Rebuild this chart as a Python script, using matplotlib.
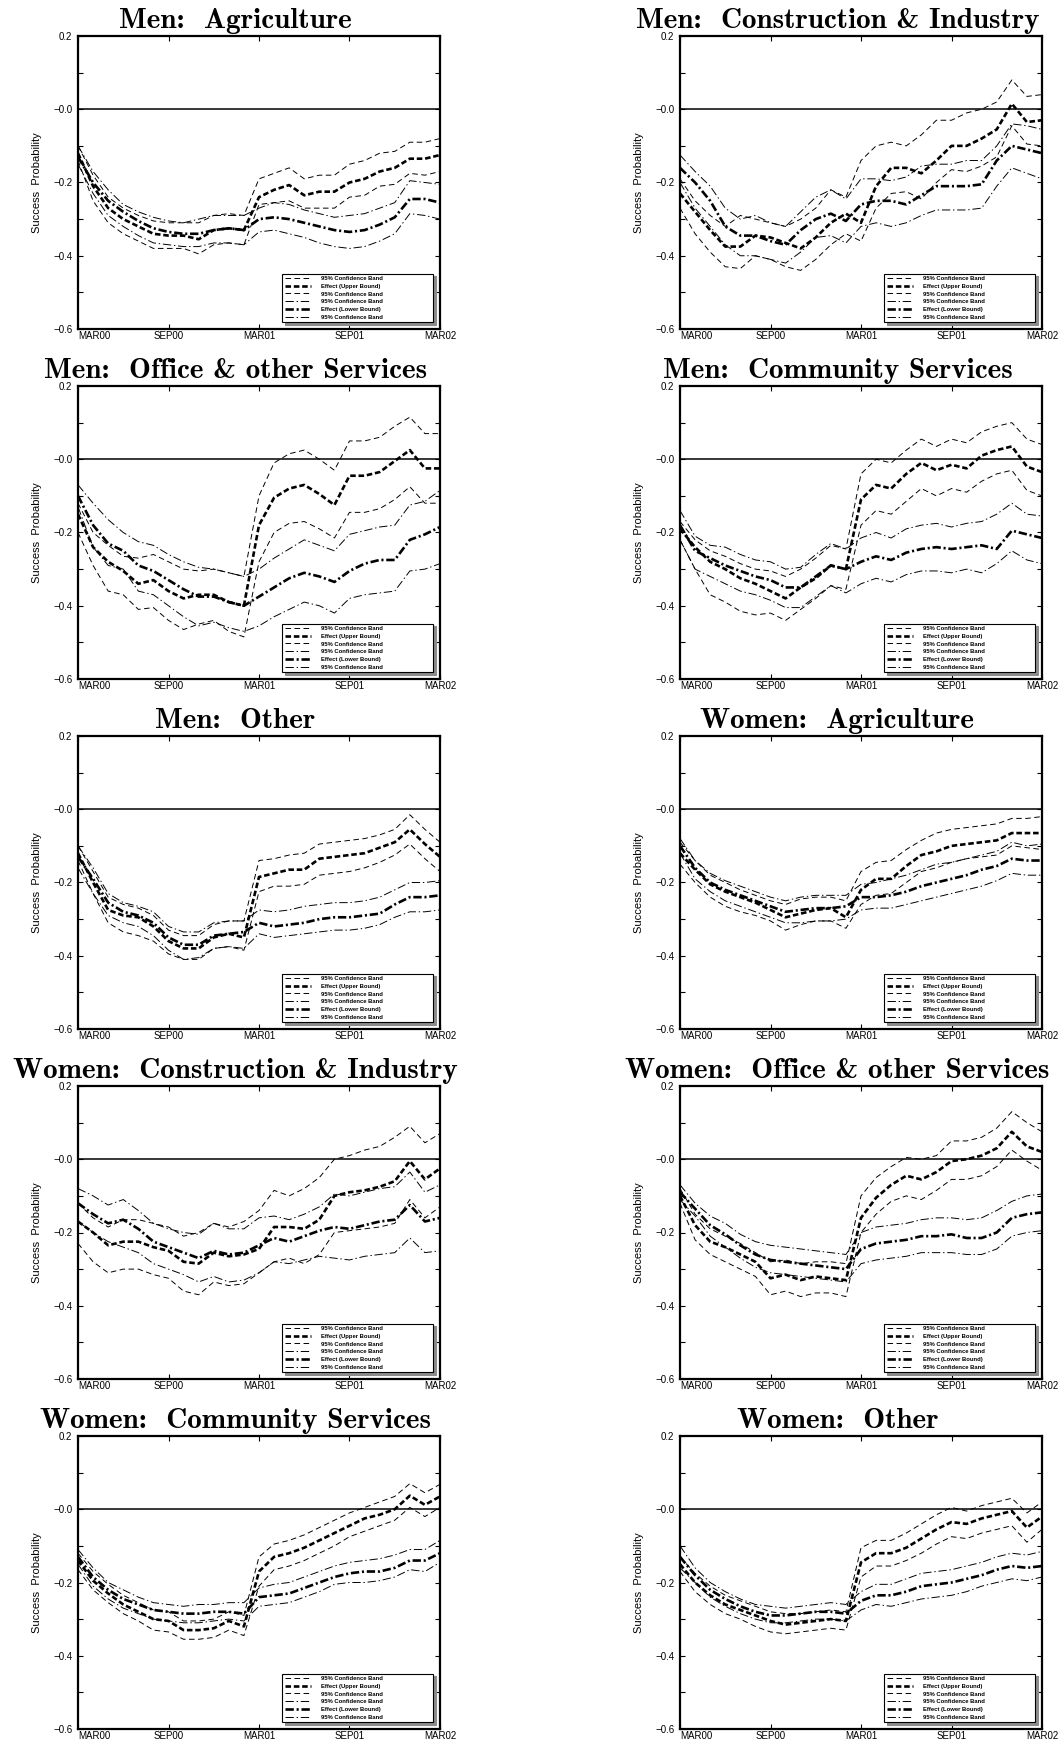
import numpy as np
import matplotlib
matplotlib.use("Agg")
import matplotlib.pyplot as plt

# ----------------------------------------------------------------------
# DATA (monthly, MAR00 .. MAR02 -> 25 points)
# uu/ue/ul: 95% band, effect (upper bound), 95% band
# lu/le/ll: 95% band, effect (lower bound), 95% band
# ----------------------------------------------------------------------
tick_labels = ["MAR00", "SEP00", "MAR01", "SEP01", "MAR02"]
y_labels = ["\u22120.6", "", "\u22120.4", "", "\u22120.2", "", "\u22120.0", "", "0.2"]

# Men: Agriculture
m_agr_uu = [-0.10, -0.18, -0.24, -0.27, -0.29, -0.305, -0.31, -0.31, -0.31, -0.29, -0.285, -0.29, -0.19, -0.175, -0.16, -0.19, -0.18, -0.18, -0.15, -0.14, -0.12, -0.115, -0.09, -0.09, -0.08]
m_agr_ue = [-0.12, -0.21, -0.27, -0.30, -0.32, -0.34, -0.345, -0.345, -0.355, -0.33, -0.325, -0.33, -0.24, -0.22, -0.207, -0.235, -0.225, -0.225, -0.20, -0.19, -0.17, -0.16, -0.135, -0.135, -0.125]
m_agr_ul = [-0.14, -0.25, -0.31, -0.34, -0.36, -0.38, -0.38, -0.38, -0.395, -0.37, -0.365, -0.37, -0.26, -0.255, -0.25, -0.27, -0.27, -0.27, -0.24, -0.235, -0.21, -0.205, -0.175, -0.18, -0.17]
m_agr_lu = [-0.10, -0.17, -0.22, -0.26, -0.28, -0.295, -0.305, -0.31, -0.30, -0.29, -0.29, -0.29, -0.27, -0.255, -0.26, -0.275, -0.285, -0.295, -0.29, -0.285, -0.27, -0.255, -0.195, -0.20, -0.205]
m_agr_le = [-0.13, -0.20, -0.25, -0.28, -0.305, -0.325, -0.335, -0.34, -0.34, -0.33, -0.325, -0.33, -0.30, -0.295, -0.30, -0.31, -0.32, -0.33, -0.335, -0.33, -0.315, -0.295, -0.245, -0.245, -0.255]
m_agr_ll = [-0.15, -0.23, -0.29, -0.32, -0.345, -0.365, -0.37, -0.375, -0.375, -0.365, -0.365, -0.37, -0.335, -0.33, -0.34, -0.35, -0.365, -0.375, -0.38, -0.375, -0.36, -0.34, -0.285, -0.29, -0.30]

# Men: Construction & Industry
m_con_uu = [-0.19, -0.25, -0.29, -0.32, -0.29, -0.30, -0.31, -0.32, -0.30, -0.27, -0.22, -0.24, -0.14, -0.10, -0.09, -0.10, -0.07, -0.03, -0.03, -0.01, 0.0, 0.02, 0.08, 0.035, 0.04]
m_con_ue = [-0.23, -0.28, -0.33, -0.375, -0.375, -0.345, -0.35, -0.365, -0.38, -0.35, -0.31, -0.285, -0.31, -0.21, -0.16, -0.16, -0.175, -0.14, -0.10, -0.10, -0.08, -0.055, 0.015, -0.035, -0.03]
m_con_ul = [-0.27, -0.34, -0.39, -0.43, -0.435, -0.40, -0.41, -0.43, -0.44, -0.41, -0.37, -0.34, -0.36, -0.27, -0.23, -0.225, -0.245, -0.20, -0.165, -0.17, -0.155, -0.13, -0.045, -0.095, -0.10]
m_con_lu = [-0.125, -0.17, -0.21, -0.27, -0.30, -0.29, -0.31, -0.32, -0.28, -0.24, -0.22, -0.245, -0.19, -0.19, -0.195, -0.185, -0.155, -0.15, -0.15, -0.14, -0.14, -0.10, -0.04, -0.045, -0.055]
m_con_le = [-0.16, -0.20, -0.25, -0.32, -0.345, -0.345, -0.36, -0.37, -0.33, -0.30, -0.285, -0.305, -0.26, -0.25, -0.25, -0.26, -0.235, -0.21, -0.21, -0.21, -0.205, -0.14, -0.10, -0.11, -0.12]
m_con_ll = [-0.20, -0.27, -0.32, -0.37, -0.40, -0.40, -0.41, -0.42, -0.39, -0.35, -0.345, -0.365, -0.32, -0.31, -0.32, -0.31, -0.29, -0.275, -0.275, -0.275, -0.27, -0.21, -0.16, -0.175, -0.19]

# Men: Office & other Services
m_off_uu = [-0.12, -0.20, -0.235, -0.265, -0.27, -0.26, -0.28, -0.30, -0.305, -0.30, -0.31, -0.32, -0.10, -0.01, 0.015, 0.025, 0.0, -0.03, 0.05, 0.05, 0.06, 0.09, 0.115, 0.07, 0.07]
m_off_ue = [-0.15, -0.24, -0.28, -0.305, -0.34, -0.33, -0.36, -0.38, -0.37, -0.37, -0.39, -0.40, -0.18, -0.105, -0.08, -0.07, -0.095, -0.125, -0.045, -0.045, -0.035, -0.005, 0.025, -0.025, -0.025]
m_off_ul = [-0.20, -0.29, -0.36, -0.37, -0.41, -0.405, -0.44, -0.465, -0.45, -0.44, -0.47, -0.485, -0.28, -0.20, -0.175, -0.17, -0.19, -0.215, -0.145, -0.145, -0.135, -0.11, -0.075, -0.12, -0.12]
m_off_lu = [-0.07, -0.12, -0.165, -0.20, -0.225, -0.235, -0.26, -0.28, -0.295, -0.30, -0.31, -0.32, -0.30, -0.27, -0.245, -0.22, -0.235, -0.25, -0.205, -0.195, -0.185, -0.18, -0.125, -0.115, -0.085]
m_off_le = [-0.10, -0.18, -0.23, -0.25, -0.29, -0.305, -0.33, -0.355, -0.375, -0.375, -0.39, -0.40, -0.375, -0.35, -0.325, -0.31, -0.32, -0.335, -0.305, -0.285, -0.275, -0.275, -0.22, -0.205, -0.185]
m_off_ll = [-0.13, -0.24, -0.29, -0.30, -0.36, -0.37, -0.40, -0.43, -0.455, -0.445, -0.46, -0.47, -0.455, -0.43, -0.41, -0.39, -0.40, -0.42, -0.38, -0.37, -0.365, -0.36, -0.305, -0.30, -0.285]

# Men: Community Services
m_com_uu = [-0.17, -0.22, -0.25, -0.265, -0.285, -0.30, -0.305, -0.32, -0.30, -0.27, -0.235, -0.245, -0.04, 0.0, -0.01, 0.025, 0.055, 0.035, 0.055, 0.045, 0.075, 0.09, 0.10, 0.055, 0.04]
m_com_ue = [-0.19, -0.24, -0.28, -0.30, -0.325, -0.34, -0.36, -0.38, -0.35, -0.325, -0.29, -0.30, -0.11, -0.07, -0.08, -0.04, -0.01, -0.03, -0.015, -0.025, 0.01, 0.025, 0.035, -0.02, -0.035]
m_com_ul = [-0.22, -0.30, -0.37, -0.39, -0.415, -0.425, -0.42, -0.44, -0.41, -0.38, -0.345, -0.355, -0.18, -0.14, -0.15, -0.115, -0.08, -0.10, -0.08, -0.09, -0.06, -0.04, -0.03, -0.085, -0.10]
m_com_lu = [-0.14, -0.21, -0.235, -0.24, -0.26, -0.275, -0.28, -0.30, -0.295, -0.26, -0.23, -0.245, -0.215, -0.20, -0.215, -0.19, -0.18, -0.175, -0.185, -0.175, -0.17, -0.15, -0.12, -0.15, -0.155]
m_com_le = [-0.18, -0.25, -0.27, -0.29, -0.305, -0.32, -0.33, -0.35, -0.35, -0.32, -0.29, -0.30, -0.28, -0.265, -0.275, -0.255, -0.245, -0.24, -0.245, -0.24, -0.235, -0.245, -0.195, -0.205, -0.215]
m_com_ll = [-0.22, -0.30, -0.32, -0.34, -0.36, -0.37, -0.385, -0.405, -0.405, -0.375, -0.345, -0.365, -0.34, -0.325, -0.335, -0.315, -0.305, -0.305, -0.31, -0.30, -0.31, -0.285, -0.25, -0.275, -0.285]

# Men: Other
m_oth_uu = [-0.10, -0.17, -0.24, -0.26, -0.27, -0.29, -0.33, -0.345, -0.345, -0.315, -0.305, -0.305, -0.14, -0.135, -0.125, -0.12, -0.095, -0.09, -0.085, -0.08, -0.07, -0.055, -0.015, -0.055, -0.09]
m_oth_ue = [-0.12, -0.20, -0.275, -0.29, -0.295, -0.32, -0.36, -0.38, -0.38, -0.35, -0.34, -0.35, -0.185, -0.175, -0.165, -0.165, -0.135, -0.13, -0.125, -0.12, -0.105, -0.09, -0.055, -0.095, -0.13]
m_oth_ul = [-0.14, -0.23, -0.31, -0.335, -0.345, -0.36, -0.395, -0.41, -0.41, -0.38, -0.375, -0.385, -0.225, -0.21, -0.21, -0.205, -0.18, -0.175, -0.17, -0.16, -0.145, -0.125, -0.095, -0.135, -0.17]
m_oth_lu = [-0.10, -0.16, -0.23, -0.255, -0.265, -0.28, -0.32, -0.335, -0.335, -0.31, -0.305, -0.305, -0.275, -0.28, -0.275, -0.265, -0.26, -0.255, -0.255, -0.25, -0.24, -0.22, -0.20, -0.20, -0.195]
m_oth_le = [-0.13, -0.19, -0.255, -0.28, -0.29, -0.31, -0.35, -0.37, -0.37, -0.345, -0.34, -0.335, -0.31, -0.32, -0.315, -0.31, -0.30, -0.295, -0.295, -0.29, -0.285, -0.26, -0.24, -0.24, -0.235]
m_oth_ll = [-0.16, -0.23, -0.29, -0.31, -0.32, -0.345, -0.385, -0.41, -0.405, -0.38, -0.375, -0.38, -0.34, -0.35, -0.345, -0.34, -0.335, -0.33, -0.33, -0.325, -0.315, -0.295, -0.28, -0.28, -0.275]

# Women: Agriculture
w_agr_uu = [-0.09, -0.14, -0.18, -0.20, -0.22, -0.235, -0.25, -0.26, -0.245, -0.24, -0.24, -0.25, -0.17, -0.145, -0.14, -0.11, -0.085, -0.065, -0.055, -0.05, -0.045, -0.04, -0.025, -0.025, -0.02]
w_agr_ue = [-0.12, -0.165, -0.205, -0.225, -0.24, -0.255, -0.275, -0.295, -0.285, -0.275, -0.27, -0.295, -0.22, -0.19, -0.19, -0.155, -0.125, -0.115, -0.10, -0.095, -0.09, -0.085, -0.065, -0.065, -0.065]
w_agr_ul = [-0.15, -0.20, -0.24, -0.265, -0.28, -0.29, -0.305, -0.33, -0.315, -0.305, -0.305, -0.325, -0.26, -0.235, -0.23, -0.20, -0.17, -0.16, -0.145, -0.135, -0.13, -0.125, -0.10, -0.105, -0.11]
w_agr_lu = [-0.08, -0.14, -0.175, -0.195, -0.21, -0.225, -0.24, -0.25, -0.24, -0.235, -0.235, -0.235, -0.205, -0.20, -0.19, -0.18, -0.165, -0.15, -0.145, -0.135, -0.125, -0.115, -0.09, -0.10, -0.095]
w_agr_le = [-0.10, -0.16, -0.20, -0.22, -0.235, -0.25, -0.265, -0.28, -0.275, -0.27, -0.27, -0.265, -0.24, -0.24, -0.235, -0.225, -0.21, -0.20, -0.19, -0.18, -0.165, -0.155, -0.135, -0.14, -0.14]
w_agr_ll = [-0.12, -0.19, -0.225, -0.25, -0.265, -0.28, -0.295, -0.31, -0.31, -0.305, -0.305, -0.30, -0.275, -0.27, -0.27, -0.26, -0.25, -0.24, -0.23, -0.22, -0.21, -0.195, -0.175, -0.18, -0.18]

# Women: Construction & Industry
w_con_uu = [-0.12, -0.16, -0.185, -0.165, -0.165, -0.175, -0.185, -0.21, -0.20, -0.175, -0.185, -0.17, -0.14, -0.085, -0.10, -0.08, -0.05, 0.0, 0.01, 0.025, 0.035, 0.06, 0.09, 0.045, 0.07]
w_con_ue = [-0.17, -0.20, -0.235, -0.225, -0.225, -0.24, -0.25, -0.28, -0.285, -0.255, -0.265, -0.26, -0.245, -0.185, -0.185, -0.19, -0.165, -0.10, -0.09, -0.085, -0.075, -0.06, -0.005, -0.055, -0.025]
w_con_ul = [-0.23, -0.28, -0.31, -0.30, -0.30, -0.315, -0.325, -0.36, -0.37, -0.335, -0.345, -0.34, -0.31, -0.28, -0.27, -0.285, -0.26, -0.20, -0.195, -0.19, -0.185, -0.175, -0.11, -0.16, -0.13]
w_con_lu = [-0.08, -0.10, -0.125, -0.11, -0.14, -0.175, -0.19, -0.20, -0.205, -0.175, -0.19, -0.19, -0.16, -0.155, -0.165, -0.15, -0.13, -0.095, -0.10, -0.09, -0.08, -0.075, -0.035, -0.09, -0.07]
w_con_le = [-0.12, -0.15, -0.175, -0.165, -0.19, -0.225, -0.24, -0.255, -0.27, -0.25, -0.26, -0.255, -0.235, -0.215, -0.225, -0.21, -0.195, -0.185, -0.19, -0.18, -0.17, -0.165, -0.125, -0.17, -0.16]
w_con_ll = [-0.17, -0.20, -0.225, -0.24, -0.255, -0.285, -0.30, -0.315, -0.335, -0.32, -0.335, -0.33, -0.31, -0.28, -0.285, -0.275, -0.265, -0.27, -0.275, -0.265, -0.26, -0.255, -0.215, -0.255, -0.25]

# Women: Office & other Services
w_off_uu = [-0.08, -0.15, -0.19, -0.21, -0.23, -0.255, -0.28, -0.275, -0.285, -0.28, -0.28, -0.285, -0.10, -0.05, -0.02, 0.005, 0.0, 0.01, 0.05, 0.05, 0.06, 0.085, 0.13, 0.10, 0.075]
w_off_ue = [-0.10, -0.18, -0.225, -0.24, -0.26, -0.28, -0.325, -0.315, -0.33, -0.32, -0.325, -0.33, -0.16, -0.105, -0.07, -0.045, -0.055, -0.035, -0.005, 0.0, 0.01, 0.03, 0.075, 0.035, 0.02]
w_off_ul = [-0.12, -0.22, -0.26, -0.28, -0.30, -0.32, -0.37, -0.36, -0.375, -0.365, -0.365, -0.375, -0.20, -0.15, -0.115, -0.10, -0.11, -0.085, -0.055, -0.055, -0.045, -0.02, 0.025, -0.005, -0.03]
w_off_lu = [-0.07, -0.12, -0.155, -0.175, -0.205, -0.225, -0.235, -0.24, -0.245, -0.25, -0.255, -0.26, -0.20, -0.185, -0.18, -0.175, -0.165, -0.16, -0.16, -0.165, -0.16, -0.14, -0.115, -0.10, -0.095]
w_off_le = [-0.09, -0.135, -0.18, -0.205, -0.235, -0.26, -0.275, -0.28, -0.285, -0.29, -0.295, -0.30, -0.245, -0.23, -0.225, -0.22, -0.21, -0.21, -0.205, -0.215, -0.215, -0.20, -0.16, -0.15, -0.145]
w_off_ll = [-0.11, -0.155, -0.21, -0.24, -0.27, -0.295, -0.31, -0.315, -0.32, -0.325, -0.33, -0.335, -0.285, -0.275, -0.27, -0.265, -0.255, -0.255, -0.255, -0.26, -0.26, -0.245, -0.21, -0.20, -0.195]

# Women: Community Services
w_com_uu = [-0.12, -0.17, -0.205, -0.235, -0.255, -0.275, -0.28, -0.305, -0.305, -0.30, -0.28, -0.29, -0.13, -0.095, -0.085, -0.07, -0.05, -0.03, -0.01, 0.005, 0.02, 0.035, 0.07, 0.045, 0.068]
w_com_ue = [-0.14, -0.195, -0.23, -0.26, -0.28, -0.30, -0.305, -0.33, -0.33, -0.325, -0.305, -0.32, -0.17, -0.13, -0.12, -0.105, -0.085, -0.065, -0.045, -0.025, -0.015, 0.0, 0.037, 0.012, 0.035]
w_com_ul = [-0.165, -0.22, -0.255, -0.285, -0.305, -0.33, -0.335, -0.355, -0.355, -0.35, -0.33, -0.345, -0.21, -0.165, -0.155, -0.14, -0.12, -0.10, -0.075, -0.06, -0.045, -0.03, 0.005, -0.02, 0.005]
w_com_lu = [-0.11, -0.16, -0.20, -0.22, -0.24, -0.255, -0.26, -0.265, -0.26, -0.26, -0.255, -0.255, -0.215, -0.205, -0.20, -0.185, -0.17, -0.155, -0.145, -0.14, -0.135, -0.125, -0.11, -0.11, -0.085]
w_com_le = [-0.13, -0.185, -0.22, -0.245, -0.26, -0.275, -0.28, -0.285, -0.285, -0.28, -0.28, -0.285, -0.24, -0.235, -0.23, -0.215, -0.20, -0.185, -0.175, -0.17, -0.17, -0.16, -0.14, -0.14, -0.12]
w_com_ll = [-0.15, -0.21, -0.245, -0.27, -0.285, -0.30, -0.305, -0.31, -0.31, -0.305, -0.30, -0.305, -0.265, -0.26, -0.255, -0.24, -0.225, -0.205, -0.20, -0.20, -0.195, -0.185, -0.165, -0.17, -0.145]

# Women: Other
w_oth_uu = [-0.13, -0.175, -0.21, -0.235, -0.25, -0.265, -0.28, -0.285, -0.285, -0.28, -0.275, -0.28, -0.105, -0.085, -0.085, -0.065, -0.04, -0.015, 0.005, -0.005, 0.01, 0.02, 0.03, -0.01, 0.02]
w_oth_ue = [-0.15, -0.20, -0.235, -0.26, -0.275, -0.29, -0.305, -0.315, -0.31, -0.305, -0.30, -0.305, -0.145, -0.12, -0.12, -0.105, -0.08, -0.055, -0.035, -0.04, -0.025, -0.015, -0.005, -0.05, -0.02]
w_oth_ul = [-0.17, -0.225, -0.26, -0.285, -0.30, -0.32, -0.335, -0.34, -0.335, -0.33, -0.325, -0.33, -0.185, -0.155, -0.155, -0.14, -0.12, -0.095, -0.075, -0.08, -0.065, -0.055, -0.045, -0.09, -0.055]
w_oth_lu = [-0.10, -0.16, -0.20, -0.225, -0.245, -0.26, -0.265, -0.27, -0.265, -0.26, -0.255, -0.26, -0.225, -0.205, -0.205, -0.19, -0.175, -0.17, -0.165, -0.155, -0.145, -0.13, -0.12, -0.125, -0.115]
w_oth_le = [-0.13, -0.18, -0.22, -0.245, -0.265, -0.28, -0.29, -0.29, -0.285, -0.28, -0.28, -0.285, -0.25, -0.235, -0.235, -0.225, -0.21, -0.205, -0.20, -0.19, -0.18, -0.165, -0.155, -0.16, -0.155]
w_oth_ll = [-0.16, -0.20, -0.24, -0.265, -0.285, -0.30, -0.31, -0.31, -0.305, -0.30, -0.30, -0.305, -0.275, -0.26, -0.265, -0.255, -0.245, -0.24, -0.235, -0.225, -0.21, -0.20, -0.19, -0.195, -0.185]

panels = [
    ("Men:  Agriculture", [m_agr_uu, m_agr_ue, m_agr_ul, m_agr_lu, m_agr_le, m_agr_ll]),
    ("Men:  Construction & Industry", [m_con_uu, m_con_ue, m_con_ul, m_con_lu, m_con_le, m_con_ll]),
    ("Men:  Office & other Services", [m_off_uu, m_off_ue, m_off_ul, m_off_lu, m_off_le, m_off_ll]),
    ("Men:  Community Services", [m_com_uu, m_com_ue, m_com_ul, m_com_lu, m_com_le, m_com_ll]),
    ("Men:  Other", [m_oth_uu, m_oth_ue, m_oth_ul, m_oth_lu, m_oth_le, m_oth_ll]),
    ("Women:  Agriculture", [w_agr_uu, w_agr_ue, w_agr_ul, w_agr_lu, w_agr_le, w_agr_ll]),
    ("Women:  Construction & Industry", [w_con_uu, w_con_ue, w_con_ul, w_con_lu, w_con_le, w_con_ll]),
    ("Women:  Office & other Services", [w_off_uu, w_off_ue, w_off_ul, w_off_lu, w_off_le, w_off_ll]),
    ("Women:  Community Services", [w_com_uu, w_com_ue, w_com_ul, w_com_lu, w_com_le, w_com_ll]),
    ("Women:  Other", [w_oth_uu, w_oth_ue, w_oth_ul, w_oth_lu, w_oth_le, w_oth_ll]),
]

series_labels = ["95% Confidence Band", "Effect (Upper Bound)", "95% Confidence Band",
                 "95% Confidence Band", "Effect (Lower Bound)", "95% Confidence Band"]
series_styles = [
    dict(lw=0.7, ls=(0, (4.0, 2.5))),
    dict(lw=1.9, ls=(0, (4.0, 2.0))),
    dict(lw=0.7, ls=(0, (4.0, 2.5))),
    dict(lw=0.7, ls=(0, (6.0, 2.0, 1.0, 2.0))),
    dict(lw=1.9, ls=(0, (6.0, 2.0, 1.5, 2.0))),
    dict(lw=0.7, ls=(0, (6.0, 2.0, 1.0, 2.0))),
]

# ----------------------------------------------------------------------
# PLOT
# ----------------------------------------------------------------------
plt.rcParams.update({"font.family": "Liberation Sans", "lines.scale_dashes": False})

W, H = 1060, 1744
fig = plt.figure(figsize=(W / 100, H / 100), dpi=100)

col_x = [78, 680]
row_top = [36, 386, 736, 1086, 1436]
ax_w, ax_h = 362, 293

x = np.arange(25)
for k, (title, series) in enumerate(panels):
    r, c = divmod(k, 2)
    left = col_x[c] / W
    bottom = 1 - (row_top[r] + ax_h) / H
    ax = fig.add_axes([left, bottom, ax_w / W, ax_h / H])

    ax.axhline(0.0, color="black", lw=1.1)
    for vals, lab, st in zip(series, series_labels, series_styles):
        ax.plot(x, vals, color="black", label=lab, **st)

    ax.set_xlim(0, 24)
    ax.set_ylim(-0.6, 0.2)
    ax.set_xticks([0, 6, 12, 18, 24])
    ax.set_xticklabels(tick_labels, fontsize=7)
    ax.get_xticklabels()[0].set_horizontalalignment("left")
    ax.set_yticks(np.linspace(-0.6, 0.2, 9))
    ax.set_yticklabels(y_labels, fontsize=7)
    ax.tick_params(direction="in", length=3.5, width=0.8, top=True, right=True)
    ax.tick_params(axis="x", pad=1.5)
    ax.tick_params(axis="y", pad=4)
    for sp in ax.spines.values():
        sp.set_linewidth(1.6)

    ax.set_ylabel("Success  Probability", fontsize=8)
    ax.yaxis.set_label_coords(-0.10, 0.5)

    ax.set_title(title, family="cmb10", fontsize=21, x=0.435, pad=6)

    leg = ax.legend(loc="lower left", bbox_to_anchor=(0.564, 0.024, 0.417, 0.174),
                    mode="expand", prop={"weight": "bold", "size": 4.2},
                    handlelength=4.6, handletextpad=1.7, labelspacing=0.45,
                    borderpad=0.4, borderaxespad=0, fancybox=False,
                    framealpha=1.0, edgecolor="black",
                    shadow={"color": "0.55", "alpha": 1.0})
    leg.get_frame().set_linewidth(0.8)

fig.savefig("out.png", dpi=100)
